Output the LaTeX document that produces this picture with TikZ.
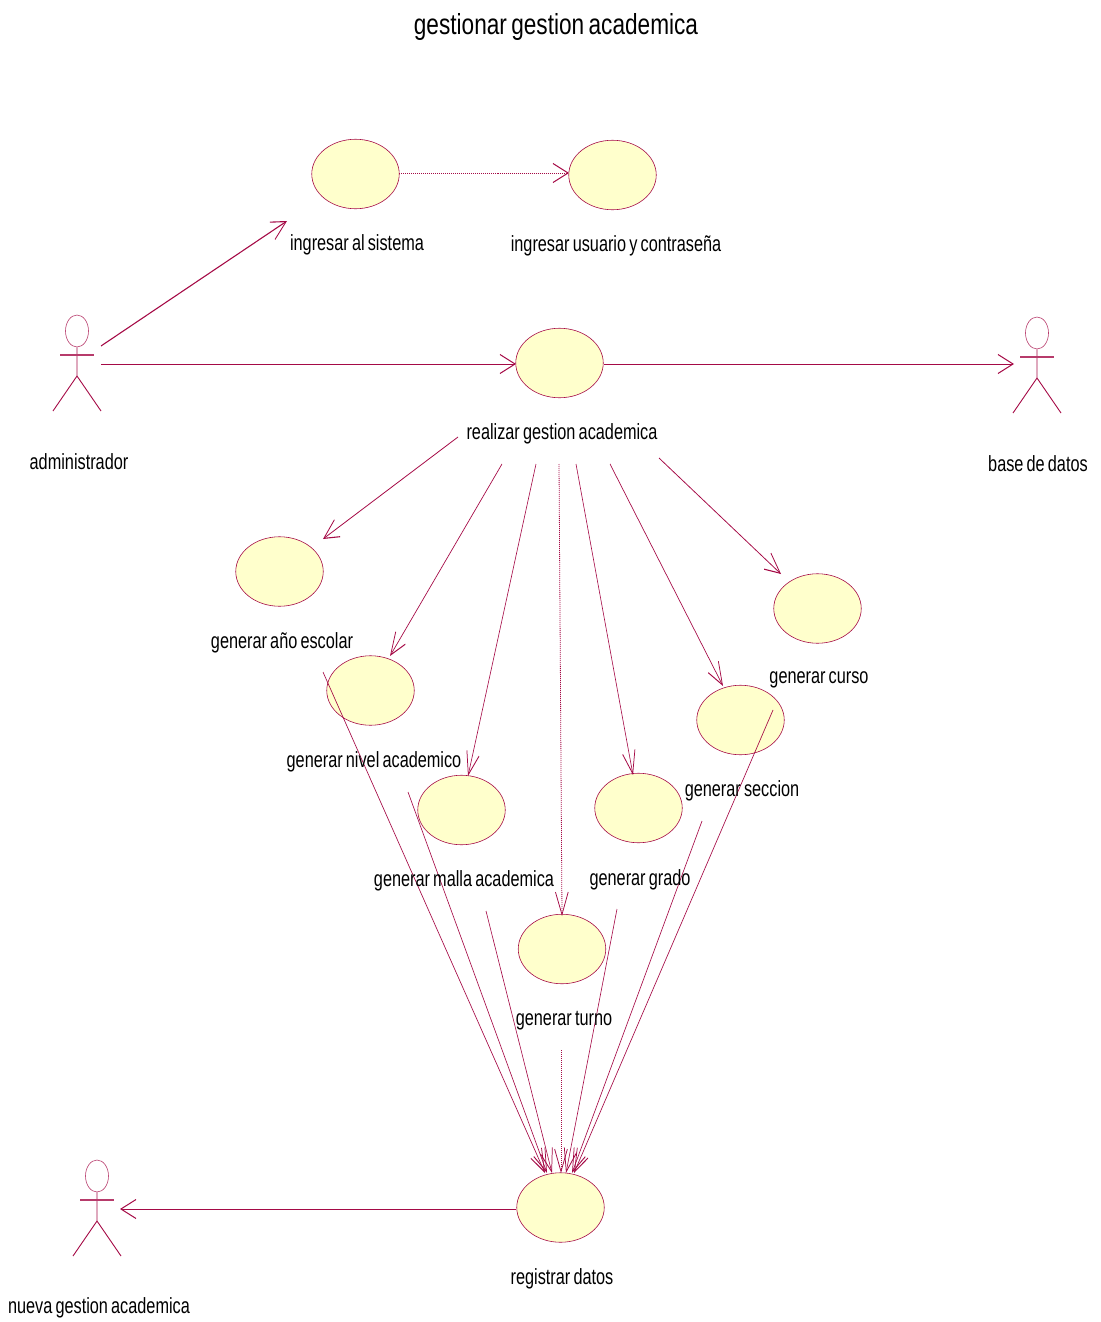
\documentclass[tikz,border=0pt]{standalone}
\usepackage{fontspec}
\setmainfont{Liberation Sans}
\newfontfamily\rotulofont[FakeStretch=0.74,WordSpace=0.7]{Liberation Sans}
\newfontfamily\titulofont[FakeStretch=0.78,WordSpace=0.7]{Liberation Sans}
\usetikzlibrary{arrows.meta,shapes.geometric}
\definecolor{vino}{RGB}{165,10,70}
\definecolor{crema}{RGB}{255,255,204}
\tikzset{
  casouso/.style={ellipse,draw=vino,fill=crema,line width=.6pt,minimum width=87.5pt,minimum height=69.5pt,inner sep=0pt},
  cabeza/.style={ellipse,draw=vino!80,line width=.6pt,minimum width=23pt,minimum height=32pt,inner sep=0pt},
  rotulo/.style={inner sep=0pt,font={\fontsize{22}{24}\rotulofont}},
  linea/.style={draw=vino,line width=.9pt},
  hombros/.style={draw=vino!80,line width=1.5pt},
  aplastado/.style={transform canvas={xscale=.67},x=1.49254pt},
  flecha/.style={draw=vino,line width=.9pt,-{Straight Barb[length=22.5pt,width=19pt,line width=1.1pt]}},
  gruesa/.style={line width=1pt},
  punteada/.style={line width=1.2pt,dash pattern=on 1pt off 1pt},
  punteadah/.style={line width=.7pt,dash pattern=on 1.5pt off 1.5pt}
}
\begin{document}
\begin{tikzpicture}[x=1pt,y=-1pt]
  \useasboundingbox (0,0) rectangle (1100,1322);
  \node[font={\fontsize{29}{32}\titulofont},inner sep=0pt](titulo)at(556,27){gestionar gestion academica};
  % casos de uso
  \node[casouso](ingresar)at(355.5,174){};
  \node[casouso](usuario)at(612.5,175){};
  \node[casouso](realizar)at(559.5,363){};
  \node[casouso](anio)at(279.5,571.5){};
  \node[casouso](curso)at(817.5,608.5){};
  \node[casouso](nivel)at(370.5,690.5){};
  \node[casouso](seccion)at(740.5,720){};
  \node[casouso](malla)at(461.5,810){};
  \node[casouso](grado)at(638.5,808){};
  \node[casouso](turno)at(562,949){};
  \node[casouso](registrar)at(560.5,1207.5){};
  % actores
  \node[cabeza](admin)at(77,331){};
  \draw[linea,shift={(77,331)}] (admin.south) -- (0,45) (-24,80) -- (0,45) -- (24,80);
  \draw[hombros,shift={(77,331)}] (-17,24) -- (17,24);
  \node[cabeza](base)at(1037,333){};
  \draw[linea,shift={(1037,333)}] (base.south) -- (0,45) (-24,80) -- (0,45) -- (24,80);
  \draw[hombros,shift={(1037,333)}] (-17,24) -- (17,24);
  \node[cabeza](nueva)at(97,1176){};
  \draw[linea,shift={(97,1176)}] (nueva.south) -- (0,45) (-24,80) -- (0,45) -- (24,80);
  \draw[hombros,shift={(97,1176)}] (-17,24) -- (17,24);
  \begin{scope}[aplastado]
  % puntos libres
  \coordinate (adminA) at (101,346);
  \coordinate (adminB) at (101,364);
  \coordinate (ingresarB) at (287,221);
  \coordinate (realizarI) at (516,364);
  \coordinate (realizarD) at (604,364);
  \coordinate (baseI) at (1014,364);
  \coordinate (ingresarD) at (399,173);
  \coordinate (usuarioI) at (569,173);
  \coordinate (nuevaD) at (120,1209);
  \coordinate (registrarI) at (516,1209);
  \draw[flecha,line width=1.2pt] (adminA) -- (ingresarB);
  \draw[flecha,gruesa] (adminB) -- (realizarI);
  \draw[flecha,punteadah] (ingresarD) -- (usuarioI);
  \draw[flecha,gruesa] (realizarD) -- (baseI);
  \draw[flecha,gruesa] (registrarI) -- (nuevaD);
  % desde realizar gestion academica
  \coordinate (salidaA) at (458,437);
  \coordinate (salidaB) at (502,464);
  \coordinate (salidaC) at (536,464);
  \coordinate (salidaD) at (559,464);
  \coordinate (salidaE) at (576,464);
  \coordinate (salidaF) at (610,464);
  \coordinate (salidaG) at (659,458);
  \coordinate (entraA) at (323,539);
  \coordinate (entraB) at (390,656);
  \coordinate (entraC) at (468,776);
  \coordinate (entraD) at (562,916);
  \coordinate (entraE) at (633,775);
  \coordinate (entraF) at (723,686);
  \coordinate (entraG) at (781,574);
  \draw[flecha] (salidaA) -- (entraA);
  \draw[flecha] (salidaB) -- (entraB);
  \draw[flecha] (salidaC) -- (entraC);
  \draw[flecha,punteada] (salidaD) -- (entraD);
  \draw[flecha] (salidaE) -- (entraE);
  \draw[flecha] (salidaF) -- (entraF);
  \draw[flecha] (salidaG) -- (entraG);
  % hacia registrar datos
  \coordinate (finA) at (323,672);
  \coordinate (finB) at (408,792);
  \coordinate (finC) at (486,911);
  \coordinate (finD) at (561,1050);
  \coordinate (finE) at (617,909);
  \coordinate (finF) at (702,821);
  \coordinate (finG) at (773,710);
  \coordinate (regA) at (545,1173);
  \coordinate (regB) at (547,1173);
  \coordinate (regC) at (552,1173);
  \coordinate (regD) at (561,1173);
  \coordinate (regE) at (566,1173);
  \coordinate (regF) at (572,1173);
  \coordinate (regG) at (574,1173);
  \draw[flecha] (finA) -- (regA);
  \draw[flecha] (finB) -- (regB);
  \draw[flecha] (finC) -- (regC);
  \draw[flecha,punteada] (finD) -- (regD);
  \draw[flecha] (finE) -- (regE);
  \draw[flecha] (finF) -- (regF);
  \draw[flecha] (finG) -- (regG);
  \end{scope}
  % rotulos
  \node[rotulo](tIngresar)at(357,245){ingresar al sistema};
  \node[rotulo](tUsuario)at(616,246){ingresar usuario y contraseña};
  \node[rotulo](tAdmin)at(79,462){administrador};
  \node[rotulo](tRealizar)at(562,434){realizar gestion academica};
  \node[rotulo](tBase)at(1038,464){base de datos};
  \node[rotulo](tAnio)at(282,643){generar año escolar};
  \node[rotulo](tCurso)at(819,680){generar curso};
  \node[rotulo](tNivel)at(374,762){generar nivel academico};
  \node[rotulo](tSeccion)at(742,791){generar seccion};
  \node[rotulo](tMalla)at(464,881){generar malla academica};
  \node[rotulo](tGrado)at(640,880){generar grado};
  \node[rotulo](tTurno)at(564,1021){generar turno};
  \node[rotulo](tRegistrar)at(562,1279){registrar datos};
  \node[rotulo](tNueva)at(99,1308){nueva gestion academica};
\end{tikzpicture}
\end{document}
